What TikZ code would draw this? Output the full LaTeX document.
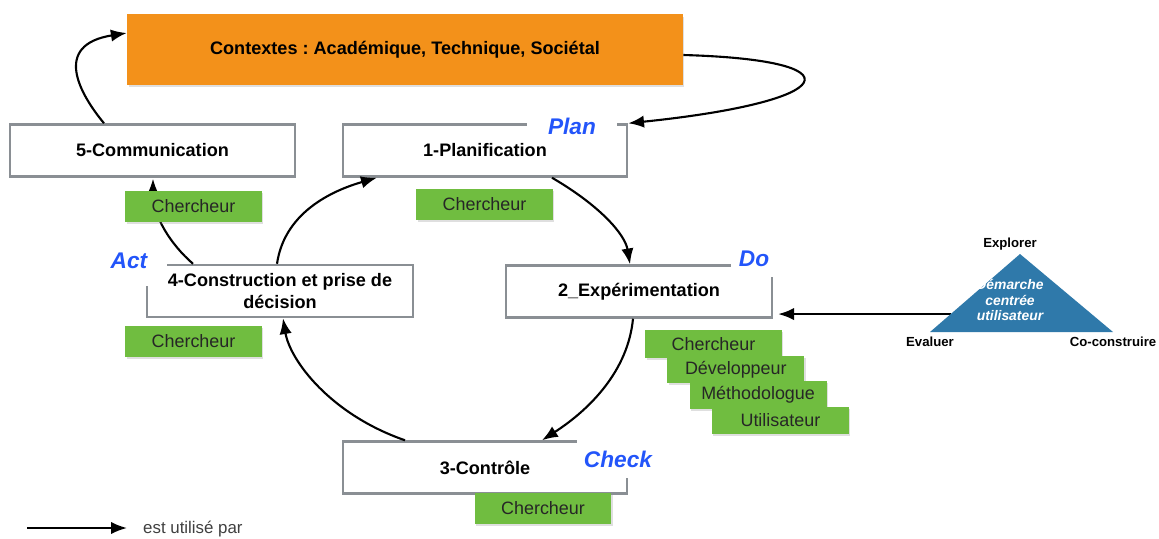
\documentclass[tikz,border=0pt]{standalone}
\usepackage{fontspec}
\setmainfont{Liberation Sans}
\usepackage{tikz}
\usetikzlibrary{arrows.meta}
\usetikzlibrary{calc}
\usetikzlibrary{shadows}
\frenchspacing

\definecolor{ctxorange}{RGB}{243,145,26}
\definecolor{rolegreen}{RGB}{112,189,64}
\definecolor{phaseblue}{RGB}{35,85,250}
\definecolor{boxgray}{RGB}{138,143,148}
\definecolor{triblue}{RGB}{47,121,170}

\begin{document}
\begin{tikzpicture}[x=0.02cm, y=-0.02cm,
		etape/.style={draw=boxgray, line width=1.4pt, fill=white, minimum width=5.68cm, minimum height=1.04cm, inner sep=0pt, align=center, font=\fontsize{10.3}{12.5}\selectfont\bfseries},
		role/.style={fill=rolegreen, text=black!85, minimum width=2.74cm, minimum height=0.62cm, inner sep=0pt, font=\fontsize{10.2}{12}\selectfont, drop shadow={shadow xshift=0.03cm, shadow yshift=-0.04cm, opacity=0.25}},
		phase/.style={fill=white, text=phaseblue, font=\fontsize{12.9}{15}\selectfont\bfseries\itshape},
		sommet/.style={font=\fontsize{7.5}{9}\selectfont\bfseries},
		fleche/.style={-{Latex[length=9pt, width=7pt]}, line width=1.2pt}]
		\useasboundingbox (0,0) rectangle (1159,538);
		
		\node [fill=ctxorange, minimum width=11.12cm, minimum height=1.42cm, font=\fontsize{10.3}{12.5}\selectfont\bfseries, drop shadow={shadow xshift=0.03cm, shadow yshift=-0.05cm, opacity=0.25}] (ctx) at (405,49.5) {Contextes : Académique, Technique, Sociétal};
		
		\node [etape, minimum width=5.7cm] (comm) at (152.5,150.5) {5-Communication};
		\node [etape] (plan) at (485,150.5) {1-Planification};
		\node [etape, minimum width=5.32cm] (constr) at (280,291) {4-Construction et prise de\\décision};
		\node [etape, minimum width=5.32cm] (exp) at (639,291.5) {2\_Expérimentation};
		\node [etape] (ctrl) at (485,467.5) {3-Contrôle};
		
		\node [phase, inner xsep=0.42cm, inner ysep=0.1cm] (lplan) at (572,126) {Plan};
		\node [phase, inner xsep=0.15cm, inner ysep=0.2cm] (ldo) at (754,259) {Do};
		\node [phase, inner xsep=0.4cm, inner ysep=0.34cm] (lact) at (129,261) {Act};
		\node [phase, inner xsep=0.14cm, inner ysep=0.22cm] (lcheck) at (618,459) {Check};
		
		\draw [fleche] ($(comm.north)+(-48.5,0)$) .. controls +(-24,-29) and +(-75,12) .. ($(ctx.west)+(0,-16.5)$);
		\draw [fleche] ($(ctx.east)+(0,5.5)$) .. controls +(177,5) and +(213,-22) .. (plan.north east);
		\draw [fleche] ($(plan.south)+(67,0)$) .. controls +(48,28) and +(-5,-30) .. ($(exp.north)+(-9,0)$);
		\draw [fleche] ($(exp.south)+(-6,0)$) .. controls +(-5,52) and +(48,-31) .. ($(ctrl.north)+(57,0)$);
		\draw [fleche] ($(ctrl.north)+(-80,0)$) .. controls +(-75,-26) and +(7,42) .. ($(constr.south)+(3,0)$);
		\draw [fleche] ($(constr.north)+(-3,0)$) .. controls +(8,-55) and +(-38,11) .. ($(plan.south west)+(35,0)$);
		\draw [fleche] ($(constr.north)+(-87,0)$) .. controls +(-23,-20) and +(0,37) .. ($(comm.south)+(0.5,1)$);
		
		\node [role] (r5) at (193.5,206) {Chercheur};
		\node [role] (r1) at (484.5,204) {Chercheur};
		\node [role] (r4) at (193.5,341.5) {Chercheur};
		\node [role] (r3) at (543,508) {Chercheur};
		\foreach \nom [count=\i from 0] in {Chercheur, Développeur, Méthodologue, Utilisateur}
			\node [role, minimum height=0.55cm] (s\i) at (713.5+22.3*\i, 344+25.5*\i) {\nom};
		
		\coordinate (top) at (1020,254);
		\coordinate (bl) at (930,332);
		\coordinate (br) at (1113,332);
		\coordinate (tedge) at ($(top)!0.77!(bl)$);
		\draw [fleche] (tedge) -- ($(tedge -| exp.east)+(5,0)$);
		\fill [triblue] (top) -- (bl) -- (br) -- cycle;
		\node [text=white, align=center, font=\fontsize{7.9}{8.6}\selectfont\bfseries\itshape] (dem) at (1010,300) {Démarche\\centrée\\utilisateur};
		\node [sommet] (explo) at (1010,244) {Explorer};
		\node [sommet] (eval) at (930,342) {Evaluer};
		\node [sommet] (cocons) at (1113,342) {Co-construire};
		
		\coordinate (la) at (27,528);
		\coordinate (lb) at (127,528);
		\draw [fleche] (la) -- (lb);
		\node [anchor=west, text=black!75, font=\fontsize{9.6}{11}\selectfont] (leg) at (137,529) {est utilisé par};
	\end{tikzpicture}
\end{document}
